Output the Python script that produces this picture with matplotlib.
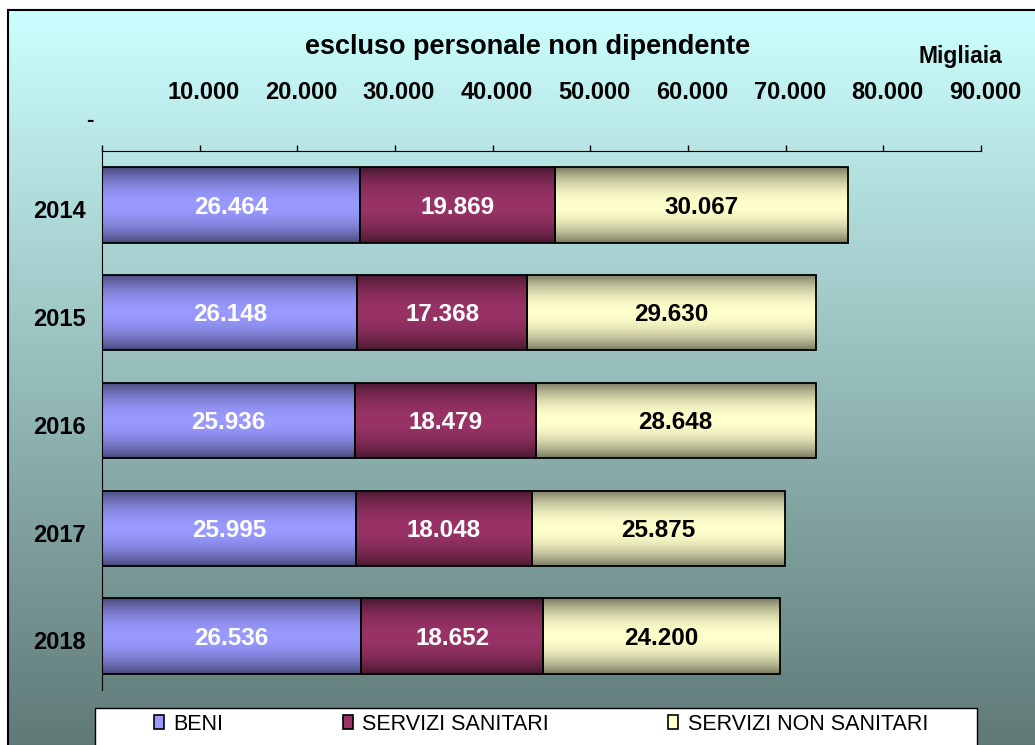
import numpy as np
import matplotlib.pyplot as plt
from matplotlib.patches import Rectangle, Patch
from matplotlib.colors import to_rgb
from matplotlib.transforms import ScaledTranslation

plt.rcParams['font.family'] = ['Liberation Sans', 'DejaVu Sans']

years = ['2014', '2015', '2016', '2017', '2018']
beni = [26464, 26148, 25936, 25995, 26536]
sanitari = [19869, 17368, 18479, 18048, 18652]
non_sanitari = [30067, 29630, 28648, 25875, 24200]
series_names = ['BENI', 'SERVIZI SANITARI', 'SERVIZI NON SANITARI']
series_colors = ['#9999FF', '#993366', '#FFFFCC']
label_colors = ['white', 'white', 'black']
xticks = [10000, 20000, 30000, 40000, 50000, 60000, 70000, 80000, 90000]


def fmt(v):
    return '{:,}'.format(v).replace(',', '.')


W, H = 1035, 745
fig = plt.figure(figsize=(W / 100, H / 100), dpi=100, facecolor='white')

# background gradient with border on left/top
bg = fig.add_axes([8 / W, -0.01, 1.0, 1 - 10 / H + 0.01], zorder=-10)
top_c = np.array([0.80, 1.00, 1.00])
bot_c = np.array([0.37, 0.47, 0.46])
t = np.linspace(0, 1, 256)[:, None]
grad = top_c * (1 - t) + bot_c * t
bg.imshow(grad[:, None, :], aspect='auto', extent=(0, 1, 0, 1), origin='upper')
bg.set_xlim(0, 1)
bg.set_ylim(0, 1)
bg.set_xticks([])
bg.set_yticks([])
for s in ['right', 'bottom']:
    bg.spines[s].set_visible(False)
bg.spines['left'].set_linewidth(1.5)
bg.spines['top'].set_linewidth(1.5)

ax = fig.add_axes([102 / W, 1 - 690 / H, (981 - 102) / W, (690 - 151) / H])
ax.set_facecolor('none')

ypos = np.arange(len(years))
bar_h = 0.70
prof = np.linspace(0, 1, 200)
shade = 0.45 + 0.55 * np.sin(np.pi * prof) ** 0.8

left = np.zeros(len(years))
for vals, col, lc in zip([beni, sanitari, non_sanitari], series_colors, label_colors):
    vals = np.array(vals)
    bars = ax.barh(ypos, vals, left=left, height=bar_h, facecolor='none',
                   edgecolor='black', linewidth=1.3, zorder=3)
    rgb = np.array(to_rgb(col))
    img = (shade[:, None] * rgb)[:, None, :]
    for b in bars:
        x0, y0 = b.get_x(), b.get_y()
        im = ax.imshow(img, aspect='auto', zorder=2,
                       extent=(x0, x0 + b.get_width(), y0, y0 + b.get_height()))
        im.set_clip_path(b)
    for y, l, v in zip(ypos, left, vals):
        ax.text(l + v / 2, y + 0.02, fmt(int(v)), ha='center', va='center',
                fontsize=17.5, fontweight='bold', color=lc, zorder=4)
    left = left + vals

ax.set_xlim(0, 90000)
ax.set_ylim(len(years) - 0.5, -0.5)

ax.xaxis.tick_top()
ax.set_xticks([0] + xticks)
ax.set_xticklabels([''] + [fmt(v) for v in xticks], fontsize=17, fontweight='bold')
ax.tick_params(axis='x', direction='out', length=4, width=1, pad=30)
shift = ScaledTranslation(4 / 100, 0, fig.dpi_scale_trans)
for lab in ax.get_xticklabels():
    lab.set_transform(lab.get_transform() + shift)
ax.set_yticks(ypos + 0.04)
ax.set_yticklabels(years, fontsize=17, fontweight='bold')
ax.tick_params(axis='y', length=0, pad=12)
ax.spines['right'].set_visible(False)
ax.spines['bottom'].set_visible(False)

fig.text(90 / W, 1 - 120 / H, '-', ha='center', va='center', fontsize=16, fontweight='bold')
fig.text(528 / W, 1 - 47 / H, 'escluso personale non dipendente', ha='center', va='center',
         fontsize=19.5, fontweight='bold')
fig.text(960 / W, 1 - 57 / H, 'Migliaia', ha='center', va='center', fontsize=16.5, fontweight='bold')

# legend box
fig.patches.append(Rectangle((95 / W, -0.02), (977 - 95) / W, 0.02 + 1 - 708 / H,
                             transform=fig.transFigure, facecolor='white',
                             edgecolor='black', linewidth=1, zorder=5))
handles = [Patch(facecolor=c, edgecolor='black', linewidth=1.2) for c in series_colors]
leg = fig.legend(handles, series_names, loc='center left', ncol=3,
                 bbox_to_anchor=(154 / W, 1 - 724 / H), frameon=False, fontsize=15.5,
                 handlelength=0.45, handleheight=0.6, handletextpad=0.45,
                 columnspacing=5.55, borderpad=0, borderaxespad=0)
leg.set_zorder(6)

fig.savefig('out.png', dpi=100)
